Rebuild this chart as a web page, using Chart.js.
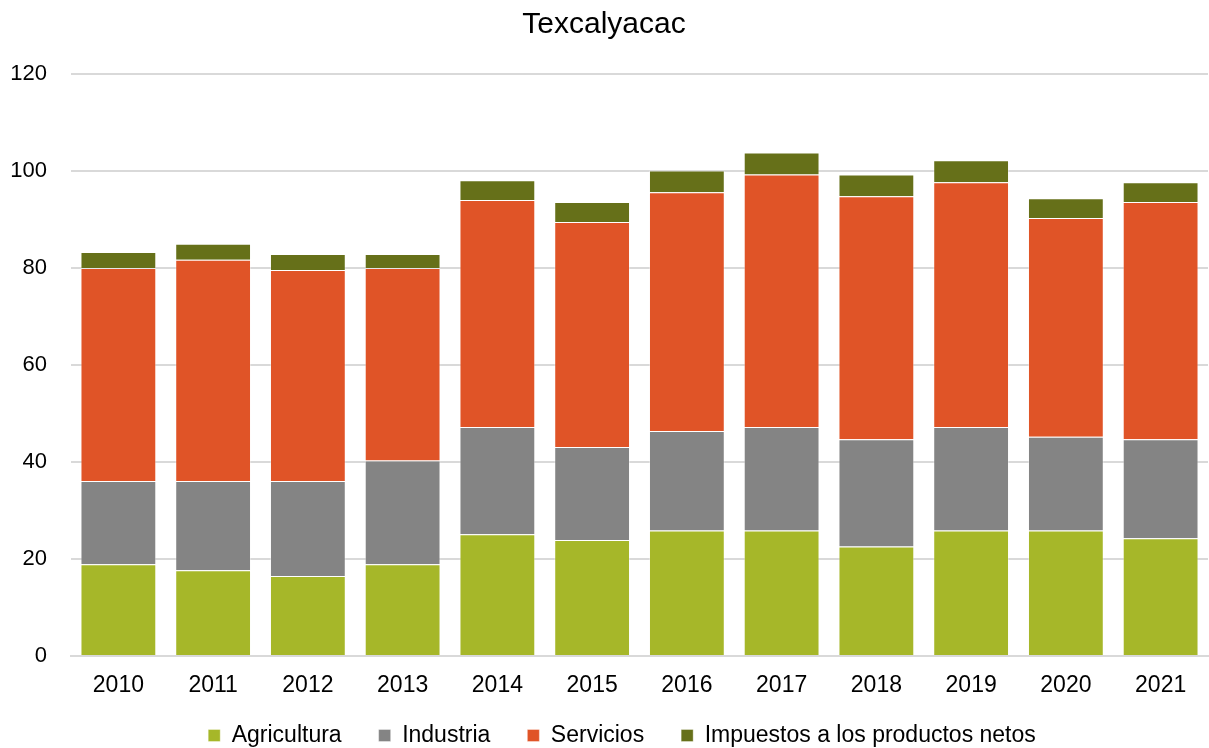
<!DOCTYPE html>
<html>
<head>
<meta charset="utf-8">
<script src="https://cdn.jsdelivr.net/npm/chart.js@4.4.0/dist/chart.umd.min.js"></script>
<style>
  html, body { margin: 0; padding: 0; background: #fff; }
  #wrap { width: 1209px; height: 748px; }
</style>
</head>
<body>
<div id="wrap"><canvas id="chart"></canvas></div>
<script>
// Años y valores por sector
const years = ['2010', '2011', '2012', '2013', '2014', '2015', '2016', '2017', '2018', '2019', '2020', '2021'];
const agricultura = [18.9, 17.7, 16.5, 18.9, 25.1, 23.9, 25.9, 25.9, 22.6, 25.9, 25.9, 24.3];
const industria = [17.2, 18.4, 19.6, 21.4, 22.1, 19.2, 20.5, 21.3, 22.1, 21.3, 19.3, 20.4];
const servicios = [43.9, 45.6, 43.5, 39.7, 46.8, 46.4, 49.2, 52.1, 50.1, 50.5, 45.1, 48.9];
const impuestos = [3.3, 3.3, 3.3, 2.9, 4.1, 4.1, 4.5, 4.5, 4.5, 4.5, 4.1, 4.1];

const FONT = "'Liberation Sans', Arial, sans-serif";
const edge = 'rgba(255,255,255,0.35)';

function series(label, data, color) {
  return {
    label: label,
    data: data,
    backgroundColor: color,
    borderColor: edge,
    borderWidth: 1,
    categoryPercentage: 0.8,
    barPercentage: 1.0
  };
}

// Legend keeps wide horizontal gaps but takes less vertical room;
// after layout its box is stretched upward so the items sit near the bottom
const compactLegend = {
  id: 'compactLegend',
  afterInit(chart) {
    const legend = chart.legend;
    if (!legend) return;
    const fit = legend.fit.bind(legend);
    legend.fit = function () {
      fit();
      if (this.isHorizontal()) this.height = 49;
    };
  },
  afterLayout(chart) {
    const legend = chart.legend;
    if (!legend) return;
    legend.top = legend.bottom - 61;
    legend.height = 61;
    // centred under the plot area rather than the whole canvas
    legend.left += 36;
  }
};

new Chart(document.getElementById('chart'), {
  type: 'bar',
  data: {
    labels: years,
    datasets: [
      series('Agricultura', agricultura, '#A6B729'),
      series('Industria', industria, '#848484'),
      series('Servicios', servicios, '#E05427'),
      series('Impuestos a los productos netos', impuestos, '#667019')
    ]
  },
  plugins: [compactLegend],
  options: {
    responsive: true,
    maintainAspectRatio: false,
    animation: false,
    layout: { padding: { left: 0, right: 1, top: 0, bottom: 0 } },
    plugins: {
      title: {
        display: true,
        text: 'Texcalyacac',
        color: '#000',
        font: { family: FONT, size: 30, weight: 'normal' },
        padding: { top: 7, bottom: 31 }
      },
      legend: {
        position: 'bottom',
        labels: {
          color: '#000',
          font: { family: FONT, size: 23 },
          boxWidth: 12,
          boxHeight: 12,
          padding: 37
        }
      },
      tooltip: { enabled: false }
    },
    scales: {
      x: {
        stacked: true,
        grid: { display: false, drawTicks: false },
        border: { color: '#D9D9D9', width: 2 },
        ticks: {
          color: '#000',
          font: { family: FONT, size: 23 },
          padding: 16,
          maxRotation: 0
        },
        afterFit(scale) {
          scale.height = 43;
        }
      },
      y: {
        stacked: true,
        min: 0,
        max: 120,
        grid: { color: '#D9D9D9', lineWidth: 2, drawTicks: false },
        border: { display: false },
        ticks: {
          stepSize: 20,
          color: '#000',
          font: { family: FONT, size: 22 },
          padding: 24
        },
        afterFit(scale) {
          scale.width = 71;
        }
      }
    }
  }
});
</script>
</body>
</html>
